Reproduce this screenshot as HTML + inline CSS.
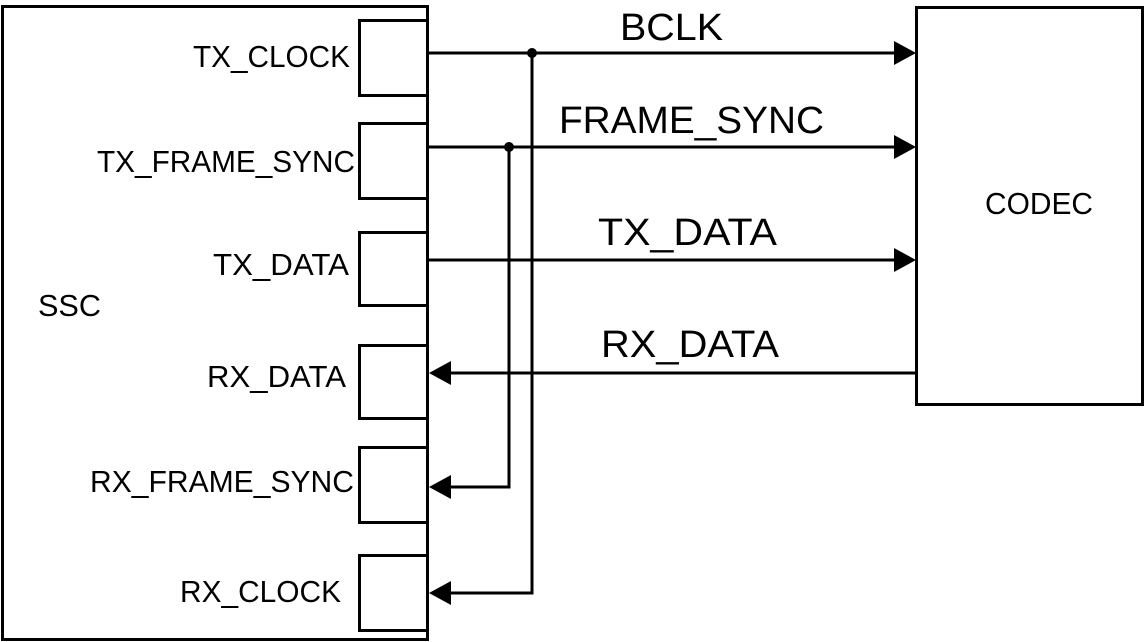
<!DOCTYPE html>
<html><head><style>html,body{margin:0;padding:0;background:#fff}svg{display:block}</style></head>
<body>
<svg width="1145" height="642" viewBox="0 0 1145 642" xmlns="http://www.w3.org/2000/svg" font-family="Liberation Sans, Arial, sans-serif" fill="#000">
<g fill="none" stroke="#000" stroke-width="3">
<rect x="2.5" y="6.5" width="425" height="633"/>
<rect x="359.5" y="20.5" width="68" height="75"/>
<rect x="359.5" y="123.5" width="68" height="75"/>
<rect x="359.5" y="232.5" width="68" height="73"/>
<rect x="359.5" y="345.5" width="68" height="73"/>
<rect x="359.5" y="447.5" width="68" height="75"/>
<rect x="359.5" y="555.5" width="68" height="75"/>
<rect x="916.5" y="7.5" width="226" height="397"/>
<path d="M428 53H895M428 147H895M428 260H895M916 373H450"/>
<path d="M532 53V593H450M509 147V487H450"/>
</g>
<g>
<polygon points="916,53 894,41 894,65"/>
<polygon points="916,147 894,135 894,159"/>
<polygon points="916,260 894,248 894,272"/>
<polygon points="429,373 451,361 451,385"/>
<polygon points="429,487 451,475 451,499"/>
<polygon points="429,593 451,581 451,605"/>
<circle cx="532" cy="53" r="5"/>
<circle cx="509" cy="147" r="5"/>
</g>
<g font-size="31">
<text x="193" y="67" textLength="157" lengthAdjust="spacingAndGlyphs">TX_CLOCK</text>
<text x="97" y="172" textLength="258" lengthAdjust="spacingAndGlyphs">TX_FRAME_SYNC</text>
<text x="213" y="275" textLength="136" lengthAdjust="spacingAndGlyphs">TX_DATA</text>
<text x="207" y="387" textLength="139" lengthAdjust="spacingAndGlyphs">RX_DATA</text>
<text x="90" y="492" textLength="264" lengthAdjust="spacingAndGlyphs">RX_FRAME_SYNC</text>
<text x="180" y="602" textLength="161" lengthAdjust="spacingAndGlyphs">RX_CLOCK</text>
<text x="38" y="316" textLength="63" lengthAdjust="spacingAndGlyphs">SSC</text>
<text x="985" y="214" textLength="108" lengthAdjust="spacingAndGlyphs">CODEC</text>
</g>
<g font-size="38">
<text x="620" y="40" textLength="103" lengthAdjust="spacingAndGlyphs">BCLK</text>
<text x="559" y="133" textLength="265" lengthAdjust="spacingAndGlyphs">FRAME_SYNC</text>
<text x="598" y="245" textLength="179" lengthAdjust="spacingAndGlyphs">TX_DATA</text>
<text x="601" y="357" textLength="178" lengthAdjust="spacingAndGlyphs">RX_DATA</text>
</g>
</svg>
</body></html>
